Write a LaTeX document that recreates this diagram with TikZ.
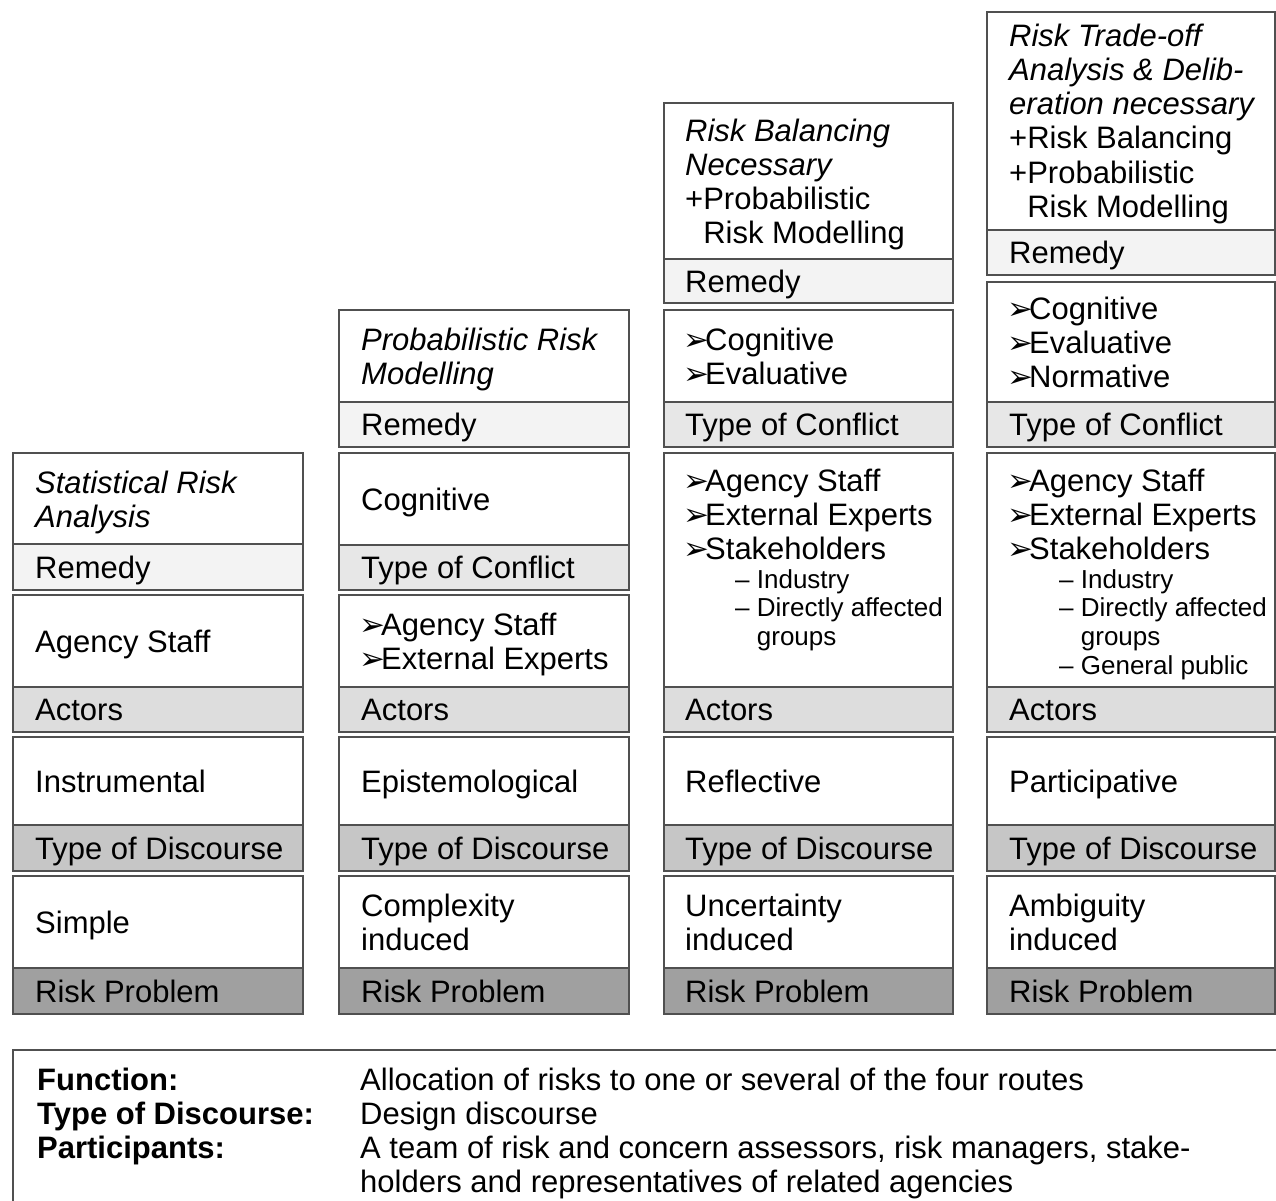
\documentclass[tikz,border=0pt]{standalone}
\usepackage{fontspec}
\setmainfont{Liberation Sans}
\newfontfamily\djv{DejaVu Sans}
\definecolor{remc}{HTML}{F3F3F3}
\definecolor{conc}{HTML}{E7E7E7}
\definecolor{actc}{HTML}{DDDDDD}
\definecolor{disc}{HTML}{C6C6C6}
\definecolor{proc}{HTML}{A0A0A0}
\definecolor{bdc}{HTML}{505050}
\newcommand\arrb{\makebox[20pt][l]{\hspace{-2pt}{\djv\fontsize{31}{31}\selectfont ➢}}}
\newcommand\grp[6]{%
  \fill[white] (#1,#3) rectangle (#2,#4);
  \fill[#6] (#1,#4) rectangle (#2,#5);
  \draw[bd] (#1,#4) -- (#2,#4);
  \draw[bd] (#1,#3) rectangle (#2,#5);
}
\tikzset{
  bd/.style={draw=bdc, line width=2pt},
  tx/.style={anchor=base west, inner sep=0pt, align=left, font=\fontsize{31}{34}\selectfont},
  sub/.style={anchor=base west, inner sep=0pt, align=left, font=\fontsize{26}{28.7}\selectfont},
}
\begin{document}
\begin{tikzpicture}[x=1pt,y=-1pt]
\useasboundingbox (0,0) rectangle (1276,1201);
\clip (0,0) rectangle (1276,1201);
% column 1
\grp{13}{303}{453}{544}{590}{remc}
\grp{13}{303}{595}{687}{732}{actc}
\grp{13}{303}{737}{825}{871}{disc}
\grp{13}{303}{876}{968}{1014}{proc}
% column 2
\grp{339}{629}{310}{402}{447}{remc}
\grp{339}{629}{453}{545}{590}{conc}
\grp{339}{629}{595}{687}{732}{actc}
\grp{339}{629}{737}{825}{871}{disc}
\grp{339}{629}{876}{968}{1014}{proc}
% column 3
\grp{664}{953}{103}{259}{303}{remc}
\grp{664}{953}{310}{402}{447}{conc}
\grp{664}{953}{453}{687}{732}{actc}
\grp{664}{953}{737}{825}{871}{disc}
\grp{664}{953}{876}{968}{1014}{proc}
% column 4
\grp{987}{1275}{12}{230}{275}{remc}
\grp{987}{1275}{282}{402}{447}{conc}
\grp{987}{1275}{453}{687}{732}{actc}
\grp{987}{1275}{737}{825}{871}{disc}
\grp{987}{1275}{876}{968}{1014}{proc}
% bottom box
\draw[bd] (13,1050) rectangle (1300,1230);

% texts column 1 (anchor = baseline of last line)
\node[tx] (c1h) at (35,527) {\textit{Statistical Risk}\\\textit{Analysis}};
\node[tx] (c1r) at (35,578) {Remedy};
\node[tx] (c1a) at (35,652) {Agency Staff};
\node[tx] (c1al) at (35,720) {Actors};
\node[tx] (c1d) at (35,792) {Instrumental};
\node[tx] (c1dl) at (35,859) {Type of Discourse};
\node[tx] (c1p) at (35,933) {Simple};
\node[tx] (c1pl) at (35,1002) {Risk Problem};
% column 2
\node[tx] (c2h) at (361,384) {\textit{Probabilistic Risk}\\\textit{Modelling}};
\node[tx] (c2r) at (361,435.5) {Remedy};
\node[tx] (c2c) at (361,510.5) {Cognitive};
\node[tx] (c2cl) at (361,578.5) {Type of Conflict};
\node[tx] (c2a) at (361,669) {\arrb Agency Staff\\\arrb External Experts};
\node[tx] (c2al) at (361,720) {Actors};
\node[tx] (c2d) at (361,792) {Epistemological};
\node[tx] (c2dl) at (361,859) {Type of Discourse};
\node[tx] (c2p) at (361,950) {Complexity\\induced};
\node[tx] (c2pl) at (361,1002) {Risk Problem};
% column 3
\node[tx] (c3h) at (685,243) {\textit{Risk Balancing}\\\textit{Necessary}\\+Probabilistic\\\phantom{+}Risk Modelling};
\node[tx] (c3r) at (685,292) {Remedy};
\node[tx] (c3c) at (685,384) {\arrb Cognitive\\\arrb Evaluative};
\node[tx] (c3cl) at (685,435.5) {Type of Conflict};
\node[tx] (c3a) at (685,559) {\arrb Agency Staff\\\arrb External Experts\\\arrb Stakeholders};
\node[sub] (c3s) at (735,645.4) {– Industry\\– Directly affected\\\phantom{– }groups};
\node[tx] (c3al) at (685,720) {Actors};
\node[tx] (c3d) at (685,792) {Reflective};
\node[tx] (c3dl) at (685,859) {Type of Discourse};
\node[tx] (c3p) at (685,950) {Uncertainty\\induced};
\node[tx] (c3pl) at (685,1002) {Risk Problem};
% column 4
\node[tx] (c4h) at (1009,217) {\textit{Risk Trade-off}\\\textit{Analysis \& Delib-}\\\textit{eration necessary}\\+Risk Balancing\\+Probabilistic\\\phantom{+}Risk Modelling};
\node[tx] (c4r) at (1009,263.5) {Remedy};
\node[tx] (c4c) at (1009,387) {\arrb Cognitive\\\arrb Evaluative\\\arrb Normative};
\node[tx] (c4cl) at (1009,435.5) {Type of Conflict};
\node[tx] (c4a) at (1009,559) {\arrb Agency Staff\\\arrb External Experts\\\arrb Stakeholders};
\node[sub] (c4s) at (1059,674.1) {– Industry\\– Directly affected\\\phantom{– }groups\\– General public};
\node[tx] (c4al) at (1009,720) {Actors};
\node[tx] (c4d) at (1009,792) {Participative};
\node[tx] (c4dl) at (1009,859) {Type of Discourse};
\node[tx] (c4p) at (1009,950) {Ambiguity\\induced};
\node[tx] (c4pl) at (1009,1002) {Risk Problem};
% bottom text
\node[tx] (fb) at (37,1158) {\textbf{Function:}\\\textbf{Type of Discourse:}\\\textbf{Participants:}};
\node[tx] (fv) at (360,1192) {Allocation of risks to one or several of the four routes\\Design discourse\\A team of risk and concern assessors, risk managers, stake-\\holders and representatives of related agencies};
\end{tikzpicture}
\end{document}
